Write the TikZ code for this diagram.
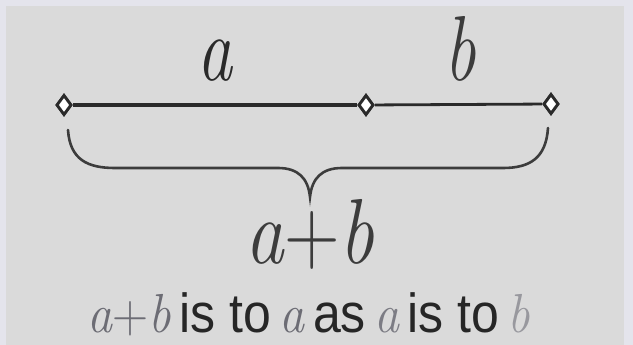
\documentclass[tikz,border=0pt]{standalone}
\usepackage{fontspec}
\newfontfamily\wordfont{Liberation Sans}
\usetikzlibrary{shapes.geometric}
\definecolor{bgout}{HTML}{E4E4EC}
\definecolor{bgin}{HTML}{DADADA}
\definecolor{ink}{HTML}{2A2A2A}
\definecolor{inkb}{HTML}{3C3C3C}
\definecolor{grA}{HTML}{6C6C74}
\definecolor{grB}{HTML}{7C7C84}
\definecolor{grC}{HTML}{98989E}
\newcommand{\vi}[1]{{\rmfamily\itshape\addfontfeatures{FakeBold=1.6}#1}}
\newcommand{\vplus}{{\rmfamily\addfontfeatures{FakeBold=1.2}+}}
\tikzset{
  pt/.style={diamond, draw=ink, fill=white, line width=2.8pt, inner sep=0pt,
             minimum width=15pt, minimum height=20pt},
  seg/.style={draw=ink, line width=3.4pt},
  biglabel/.style={inner sep=0pt, anchor=base, text=ink,
                   font=\fontsize{70}{70}\selectfont},
  captionline/.style={inner sep=0pt, anchor=base, text=black!85,
                   font=\fontsize{50}{50}\selectfont\wordfont},
  bracepath/.style={draw=inkb, line width=2.6pt, line cap=round}
}
\begin{document}
\begin{tikzpicture}[x=1pt,y=-1pt]
\useasboundingbox (0,0) rectangle (633,345);
\fill[bgout] (0,0) rectangle (633,345);
\fill[bgin] (6,6) rectangle (624,345);
% points and segments
\node[pt] (p1) at (64,105) {};
\node[pt] (p2) at (366,105) {};
\node[pt] (p3) at (551,104) {};
\draw[seg] (p1) -- (p2);
\draw[seg, line width=2.8pt] (p2) -- (p3);
\node[pt] at (p1) {};
\node[pt] at (p2) {};
\node[pt] at (p3) {};
% labels
\node[biglabel] (la) at (215,81) {\scalebox{1}[1.32]{\vi{a}}};
\node[biglabel, text=inkb] (lb) at (460,81) {\scalebox{1}[1.32]{\vi{b}}};
% brace
\coordinate (tip) at (310,197);
\draw[bracepath] (68,130) .. controls (70,160) and (88,168) .. (115,168)
  -- (278,168) .. controls (298,168) and (308,178) .. (tip)
  .. controls (312,178) and (322,168) .. (342,168)
  -- (503,168) .. controls (530,168) and (546,158) .. (548,128);
\node[biglabel, text=inkb] (lab) at (310,263) {\scalebox{1.1}[1.32]{\vi{a}\vplus\vi{b}}};
% caption
\node[captionline] (cap) at (309,332) {\scalebox{1}[1.1]{\textcolor{grA}{\vi{a}\vplus\vi{b}}\,is to\,\textcolor{grA}{\vi{a}}\,as\,\textcolor{grB}{\vi{a}}\,is to\,\textcolor{grC}{\vi{b}}}};
\end{tikzpicture}
\end{document}
